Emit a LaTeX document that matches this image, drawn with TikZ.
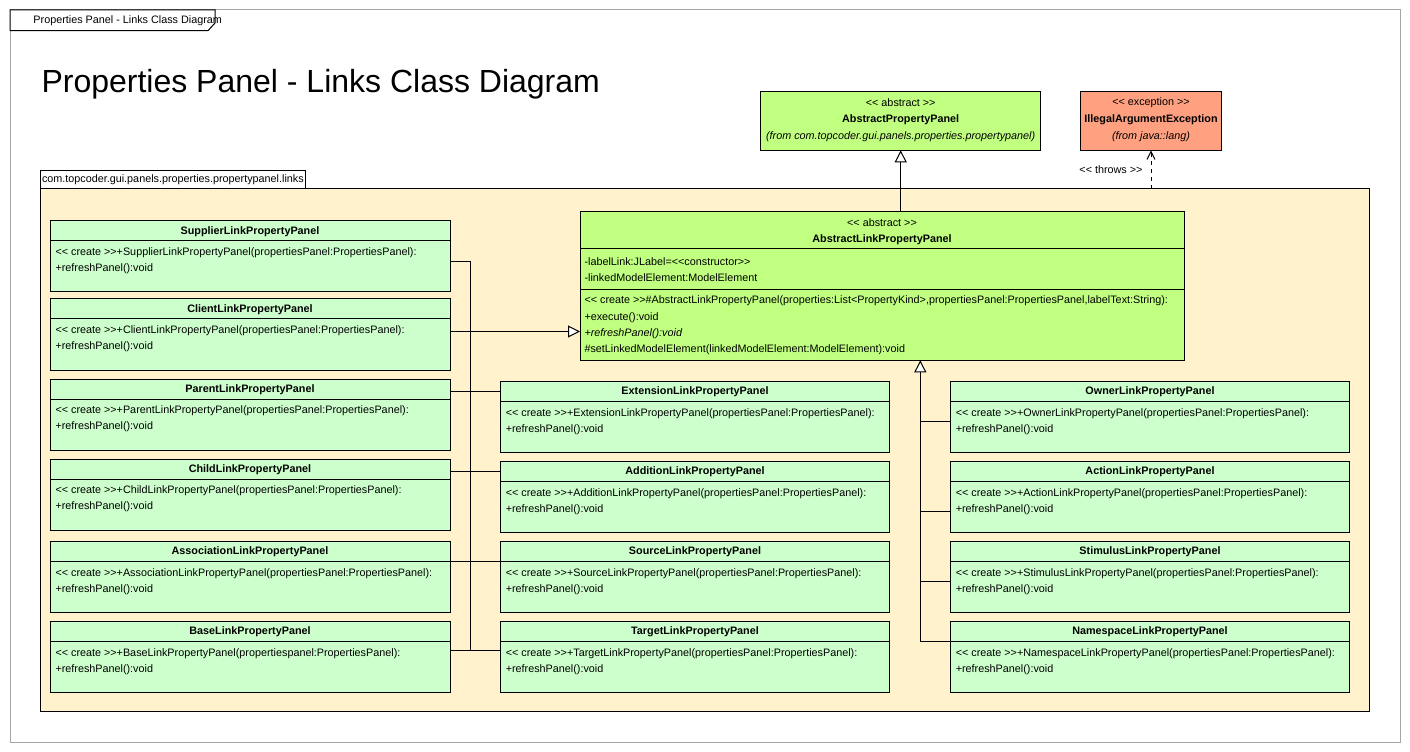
\documentclass[tikz,border=0pt]{standalone}
\usepackage{fontspec}
\setmainfont{Liberation Sans}[Ligatures=TeXOff]
\usetikzlibrary{arrows.meta,calc}

\definecolor{panelgreen}{RGB}{204,255,204}
\definecolor{abstractgreen}{RGB}{192,255,128}
\definecolor{exceptionred}{RGB}{255,160,128}
\definecolor{packagecream}{RGB}{255,242,204}

% one link panel class: node name, x, y, width, class name, constructor arguments
\newcommand{\linkpanel}[6]{%
  \node[panel, minimum width=#4*0.75pt] (#1) at (#2,#3) {};
  \draw ($(#1.north west)+(0,20)$) -- ($(#1.north east)+(0,20)$);
  \node[clsname] at ($(#1.north)+(0,10.5)$) {#5};
  \node[member] at ($(#1.north west)+(5,32)$) {<< create >>+#5(#6):};
  \node[member] at ($(#1.north west)+(5,48)$) {+refreshPanel():void};
}

\begin{document}
\begin{tikzpicture}[x=0.75pt,y=0.75pt,yscale=-1,line width=0.75pt,
  box/.style={draw, anchor=north west, inner sep=0pt, outer sep=0pt},
  panel/.style={box, fill=panelgreen, minimum height=71*0.75pt},
  member/.style={anchor=west, inner sep=0pt, font=\fontsize{8.1}{9.6}\selectfont},
  clsname/.style={inner sep=0pt, font=\fontsize{8.1}{9.6}\selectfont\bfseries},
  gen/.style={-{Triangle[length=9pt,width=9pt,fill=white]}},
  throws/.style={dash pattern=on 3pt off 3pt, -{Straight Barb[length=6pt,width=6pt]}}]
\useasboundingbox (0,0) rectangle (1410,752);

%Frame
\draw[gray!70] (10,10) rectangle (1400,742);
\draw[fill=white] (10,10) -- (215,10) -- (215,23) -- (208,30.7) -- (10,30.7) -- cycle;
\node[member] (frametab) at (33,21) {Properties Panel - Links Class Diagram};

% Title
\node[anchor=base west, inner sep=0pt, font=\fontsize{24}{28.8}\selectfont] (title) at (41,93) {Properties Panel - Links Class Diagram};

%AbstractPropertyPanel
\node[box, fill=abstractgreen, minimum width=280*0.75pt, minimum height=59*0.75pt] (absPanel) at (760.7,91.3) {};
\node[clsname, font=\fontsize{8.1}{9.6}\selectfont] at ($(absPanel.north)+(0,11.5)$) {<< abstract >>};
\node[clsname] at ($(absPanel.north)+(0,28)$) {AbstractPropertyPanel};
\node[clsname, font=\fontsize{8.1}{9.6}\selectfont\itshape] at ($(absPanel.north)+(0,45.5)$) {(from com.topcoder.gui.panels.properties.propertypanel)};

%IllegalArgumentException
\node[box, fill=exceptionred, minimum width=141.4*0.75pt, minimum height=59*0.75pt] (exception) at (1080.3,91.3) {};
\node[clsname, font=\fontsize{8.1}{9.6}\selectfont] at ($(exception.north)+(0,11.5)$) {<< exception >>};
\node[clsname] at ($(exception.north)+(0,28)$) {IllegalArgumentException};
\node[clsname, font=\fontsize{8.1}{9.6}\selectfont\itshape] at ($(exception.north)+(0,45.5)$) {(from java::lang)};

%Package
\node[box, fill=packagecream, minimum width=1329*0.75pt, minimum height=522*0.75pt] (pkg) at (40,189) {};
\node[draw, fill=white, anchor=south west, inner xsep=1.5pt, inner ysep=0pt, outer sep=0pt, minimum height=18*0.75pt, font=\fontsize{8.1}{9.6}\selectfont] (pkgtab) at (40,189) {com.topcoder.gui.panels.properties.propertypanel.links};

%AbstractLinkPropertyPanel
\node[box, fill=abstractgreen, minimum width=604*0.75pt, minimum height=148.6*0.75pt] (absLink) at (580,211.7) {};
\draw ($(absLink.north west)+(0,37.3)$) -- ($(absLink.north east)+(0,37.3)$);
\draw ($(absLink.north west)+(0,77.6)$) -- ($(absLink.north east)+(0,77.6)$);
\node[clsname, font=\fontsize{8.1}{9.6}\selectfont] at ($(absLink.north)+(0,11)$) {<< abstract >>};
\node[clsname] at ($(absLink.north)+(0,27.6)$) {AbstractLinkPropertyPanel};
\node[member] at ($(absLink.north west)+(4,50)$) {-labelLink:JLabel=<<constructor>>};
\node[member] at ($(absLink.north west)+(4,65.6)$) {-linkedModelElement:ModelElement};
\node[member] at ($(absLink.north west)+(4,89)$) {<< create >>\#AbstractLinkPropertyPanel(properties:List<PropertyKind>,propertiesPanel:PropertiesPanel,labelText:String):};
\node[member] at ($(absLink.north west)+(4,105.6)$) {+execute():void};
\node[member, font=\fontsize{8.1}{9.6}\selectfont\itshape] at ($(absLink.north west)+(4,121.6)$) {+refreshPanel():void};
\node[member] at ($(absLink.north west)+(4,137.6)$) {\#setLinkedModelElement(linkedModelElement:ModelElement):void};

%Left column
\linkpanel{supplier}{50}{221}{400}{SupplierLinkPropertyPanel}{propertiesPanel:PropertiesPanel}
\linkpanel{client}{50}{299}{400}{ClientLinkPropertyPanel}{propertiesPanel:PropertiesPanel}
\linkpanel{parent}{50}{379}{400}{ParentLinkPropertyPanel}{propertiesPanel:PropertiesPanel}
\linkpanel{child}{50}{459}{400}{ChildLinkPropertyPanel}{propertiesPanel:PropertiesPanel}
\linkpanel{association}{50}{541.5}{400}{AssociationLinkPropertyPanel}{propertiesPanel:PropertiesPanel}
\linkpanel{base}{50}{621.3}{400}{BaseLinkPropertyPanel}{propertiespanel:PropertiesPanel}

%Middle column
\linkpanel{extension}{500.3}{381.7}{389.4}{ExtensionLinkPropertyPanel}{propertiesPanel:PropertiesPanel}
\linkpanel{addition}{500.3}{461.7}{389.4}{AdditionLinkPropertyPanel}{propertiesPanel:PropertiesPanel}
\linkpanel{source}{500.3}{541.7}{389.4}{SourceLinkPropertyPanel}{propertiesPanel:PropertiesPanel}
\linkpanel{target}{500.3}{621.7}{389.4}{TargetLinkPropertyPanel}{propertiesPanel:PropertiesPanel}

%Right column
\linkpanel{owner}{950.3}{381.7}{399.4}{OwnerLinkPropertyPanel}{propertiesPanel:PropertiesPanel}
\linkpanel{action}{950.3}{461.7}{399.4}{ActionLinkPropertyPanel}{propertiesPanel:PropertiesPanel}
\linkpanel{stimulus}{950.3}{541.7}{399.4}{StimulusLinkPropertyPanel}{propertiesPanel:PropertiesPanel}
\linkpanel{namespace}{950.3}{621.7}{399.4}{NamespaceLinkPropertyPanel}{propertiesPanel:PropertiesPanel}

%Left tree
\path ($(base.north east)+(0,29.4)$) coordinate (b1);
\draw (b1) -- (b1 -| target.west);
\draw ($(supplier.north east)+(0,40.5)$) coordinate (s1) -| ($(b1)+(20,0)$);
\draw[gen] ($(client.north east)+(0,32.5)$) coordinate (c1) -- (c1 -| absLink.west);
\draw ($(parent.north east)+(0,12)$) coordinate (p1) -- (p1 -| extension.west);
\draw ($(child.north east)+(0,12.4)$) coordinate (ch1) -- (ch1 -| addition.west);
\draw ($(association.north east)+(0,20)$) coordinate (a1) -- (a1 -| source.west);

%Right tree
\path ($(namespace.north west)+(-30,20)$) coordinate (n1);
\draw[gen] (n1 -| namespace.west) -| (n1 |- absLink.south);
\draw ($(owner.north west)+(0,39.5)$) coordinate (o1) -- (o1 -| n1);
\draw ($(action.north west)+(0,50)$) coordinate (ac1) -- (ac1 -| n1);
\draw ($(stimulus.north west)+(0,40)$) coordinate (st1) -- (st1 -| n1);

%Generalization and throws
\draw[gen] (absLink.north -| absPanel.south) -- (absPanel.south);
\draw[throws] (pkg.north -| exception.south) -- node[member, anchor=east, xshift=-6pt] {<< throws >>} (exception.south);

\end{tikzpicture}
\end{document}
